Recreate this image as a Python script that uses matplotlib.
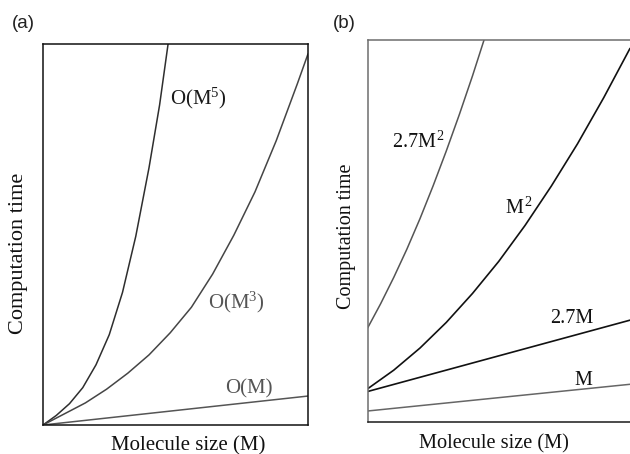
import matplotlib
matplotlib.use("Agg")
import matplotlib.pyplot as plt

plt.rcParams['mathtext.fontset'] = 'custom'
plt.rcParams['mathtext.rm'] = 'Liberation Serif'
plt.rcParams['mathtext.it'] = 'Liberation Serif:italic'

SERIF = 'Liberation Serif'
SANS = 'Liberation Sans'

# ---- Panel (a): scaling of computation time with molecule size ----
size_linear_a = [0, 10]
time_linear_a = [0, 7.6]

size_cubic = [0, 0.8, 1.6, 2.4, 3.2, 4.0, 4.8, 5.6, 6.4, 7.2, 8.0, 8.8, 9.6, 10.0]
time_cubic = [0, 2.9, 5.8, 9.4, 13.6, 18.4, 24.2, 30.9, 39.6, 49.8, 61.2, 74.6, 89.6, 97.4]

size_quintic = [0, 0.5, 1.0, 1.5, 2.0, 2.5, 3.0, 3.5, 4.0, 4.4, 4.72]
time_quintic = [0, 2.5, 5.6, 9.8, 15.8, 23.7, 34.8, 49.5, 67.5, 84.0, 100]

labels_a = ['O(M$^{5}$)', 'O(M$^{3}$)', 'O(M)']

# ---- Panel (b): prefactor versus scaling ----
size_line_b = [0, 10]
time_m = [2.8, 9.8]
time_27m = [7.9, 26.6]

size_sq = [0, 1, 2, 3, 4, 5, 6, 7, 8, 9, 10]
time_sq = [8.6, 13.5, 19.3, 26.0, 33.6, 42.0, 51.4, 61.7, 72.8, 84.9, 97.8]

size_27sq = [0, 0.5, 1.0, 1.5, 2.0, 2.5, 3.0, 3.5, 4.0, 4.5]
time_27sq = [24.5, 30.9, 37.8, 45.2, 53.2, 61.8, 70.9, 80.5, 90.6, 101.3]

labels_b = [r'2.7M$^{\,2}$', r'M$^{\,2}$', '2.7M', 'M']

W, H = 630, 454
fig = plt.figure(figsize=(W / 100, H / 100), dpi=100)


def px_axes(x0, y_top, x1, y_bot):
    return fig.add_axes([x0 / W, 1 - y_bot / H, (x1 - x0) / W, (y_bot - y_top) / H])


def fig_text(x, y, s, **kw):
    fig.text(x / W, 1 - y / H, s, **kw)


line_kw = dict(solid_joinstyle='round', solid_capstyle='round')

# Panel (a)
ax = px_axes(43, 44, 308, 425)
ax.plot(size_quintic, time_quintic, color='#2e2e2e', lw=1.1, **line_kw)
ax.plot(size_cubic, time_cubic, color='#454545', lw=1.1, **line_kw)
ax.plot(size_linear_a, time_linear_a, color='#555555', lw=1.1, **line_kw)
ax.set_xlim(0, 10)
ax.set_ylim(0, 100)
ax.set_xticks([])
ax.set_yticks([])
for sp in ax.spines.values():
    sp.set_color('#111111')
    sp.set_linewidth(1.1)
ax.text(4.79, 84.2, labels_a[0], family=SERIF, fontsize=15, color='#1a1a1a', va='baseline')
ax.text(6.23, 30.6, labels_a[1], family=SERIF, fontsize=15, color='#555555', va='baseline')
ax.text(6.87, 8.4, labels_a[2], family=SERIF, fontsize=15, color='#555555', va='baseline')

# Panel (b)
bx = px_axes(367.5, 40, 630, 421.7)
bx.plot(size_27sq, time_27sq, color='#555555', lw=1.1, **line_kw)
bx.plot(size_sq, time_sq, color='#111111', lw=1.2, **line_kw)
bx.plot(size_line_b, time_27m, color='#111111', lw=1.2, **line_kw)
bx.plot(size_line_b, time_m, color='#666666', lw=1.1, **line_kw)
bx.set_xlim(0, 10)
bx.set_ylim(0, 100)
bx.set_xticks([])
bx.set_yticks([])
bx.spines['right'].set_visible(False)
bx.spines['left'].set_color('#6e6e6e')
bx.spines['top'].set_color('#6e6e6e')
bx.spines['bottom'].set_color('#1a1a1a')
for sp in bx.spines.values():
    sp.set_linewidth(1.1)
bx.text(0.93, 71.8, labels_b[0], family=SERIF, fontsize=14.5, color='#111111', va='baseline')
bx.text(5.24, 54.4, labels_b[1], family=SERIF, fontsize=14.5, color='#111111', va='baseline')
bx.text(6.95, 25.9, labels_b[2], family=SERIF, fontsize=14.5, color='#111111', va='baseline')
bx.text(7.90, 9.6, labels_b[3], family=SERIF, fontsize=14.5, color='#111111', va='baseline')

# Panel tags and axis titles
fig_text(12, 28, '(a)', family=SANS, fontsize=13.5, color='#222222', va='baseline')
fig_text(333, 28, '(b)', family=SANS, fontsize=13.5, color='#222222', va='baseline')
fig_text(188.5, 450, 'Molecule size (M)', family=SERIF, fontsize=15, color='#111111',
         ha='center', va='baseline')
fig_text(493.5, 448, 'Molecule size (M)', family=SERIF, fontsize=14.7, color='#111111',
         ha='center', va='baseline')
fig_text(18.5, 253, 'Computation time', family=SERIF, fontsize=16, color='#111111',
         ha='center', va='center', rotation=90)
fig_text(346.5, 236, 'Computation time', family=SERIF, fontsize=14.5, color='#111111',
         ha='center', va='center', rotation=90)

fig.savefig('out.png', dpi=100)
